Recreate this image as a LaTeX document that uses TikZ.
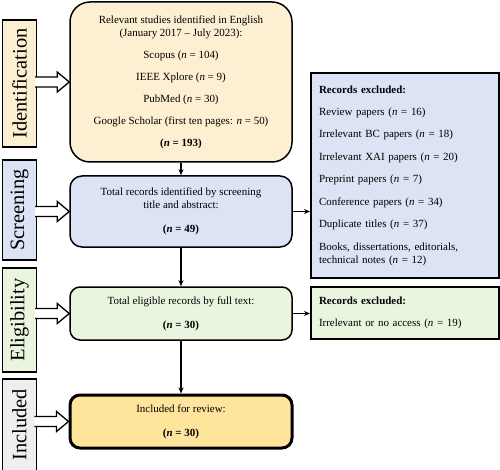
\documentclass[tikz,border=0pt]{standalone}
\usepackage{fontspec}
\setmainfont{Liberation Serif}
\usetikzlibrary{arrows.meta,calc}
\definecolor{idfill}{HTML}{FDF0D2}
\definecolor{scfill}{HTML}{DCE3F4}
\definecolor{elfill}{HTML}{EAF5E0}
\definecolor{infill}{HTML}{FFE49C}
\definecolor{ingray}{HTML}{EFEFEF}
\newcommand{\nn}{\textit{n}}
\newcommand{\hollowarrow}[2]{%
  \draw[line width=1.3bp,fill=white,line join=miter]
    ($(#2.west)+(-34,-5)$) -- ++(22,0) -- ++(0,-5) -- (#2.west) -- ++(-12,10) -- ++(0,-5) -- ++(-22,0);}
\begin{document}
\begin{tikzpicture}[x=1bp,y=-1bp,
  mainbox/.style={draw,line width=1.5bp,minimum width=222bp,align=center,inner sep=0pt,
    font=\fontsize{11}{13}\selectfont},
  sidelab/.style={draw,line width=1.2bp,minimum height=34bp,rotate=90,inner sep=0pt,
    font=\fontsize{20.5}{22}\selectfont},
  exbox/.style={draw,line width=2bp,minimum width=188bp,align=left,inner sep=0pt,
    text width=172bp,font=\fontsize{11}{13}\selectfont},
  flow/.style={line width=1.2bp,-{Stealth[length=6bp,width=5bp]}}]
\useasboundingbox (0,0) rectangle (500,470);

% side labels
\node[sidelab,fill=idfill,minimum width=127bp] (lid) at (19.5,83.5) {Identification};
\node[sidelab,fill=scfill,minimum width=100bp] (lsc) at (19.5,210) {Screening};
\node[sidelab,fill=elfill,minimum width=104bp] (lel) at (19.5,320) {Eligibility};
\node[sidelab,fill=ingray,minimum width=92bp] (lin) at (19.5,425) {Included};

% main boxes
\node[mainbox,fill=idfill,rounded corners=20bp,minimum height=160bp] (id) at (181,82)
  {Relevant studies identified in English\\(January 2017 -- July 2023):\\[9bp]
   Scopus (\nn{} = 104)\\[9bp]IEEE Xplore (\nn{} = 9)\\[9bp]PubMed (\nn{} = 30)\\[9bp]
   Google Scholar (first ten pages: \nn{} = 50)\\[9bp]\textbf{(\nn{} = 193)}};
\node[mainbox,fill=scfill,rounded corners=12bp,minimum height=71bp] (sc) at (181,211.5)
  {Total records identified by screening\\title and abstract:\\[11bp]\textbf{(\nn{} = 49)}};
\node[mainbox,fill=elfill,rounded corners=10bp,minimum height=53bp] (el) at (181,313.5)
  {Total eligible records by full text:\\[11bp]\textbf{(\nn{} = 30)}};
\node[mainbox,fill=infill,rounded corners=10bp,minimum height=53bp,line width=3bp] (in) at (181,421.5)
  {Included for review:\\[11bp]\textbf{(\nn{} = 30)}};

% exclusion boxes
\node[exbox,fill=scfill,minimum height=205bp] (ex1) at (405,175.5)
  {\textbf{Records excluded:}\\[9.5bp]
   Review papers (\nn{} = 16)\\[9.5bp]
   Irrelevant BC papers (\nn{} = 18)\\[9.5bp]
   Irrelevant XAI papers (\nn{} = 20)\\[9.5bp]
   Preprint papers (\nn{} = 7)\\[9.5bp]
   Conference papers (\nn{} = 34)\\[9.5bp]
   Duplicate titles (\nn{} = 37)\\[9.5bp]
   Books, dissertations, editorials,\\technical notes (\nn{} = 12)};
\node[exbox,fill=elfill,minimum height=52bp] (ex2) at (405,313)
  {\textbf{Records excluded:}\\[9.5bp]Irrelevant or no access (\nn{} = 19)};

% flow arrows
\draw[flow] (id) -- (sc);
\draw[flow] (sc) -- (el);
\draw[flow] (el) -- (in);
\draw[flow] (sc.east) -- (sc.east -| ex1.west);
\draw[flow] (el.east) -- (el.east -| ex2.west);

% hollow arrows
\hollowarrow{lid}{id}
\hollowarrow{lsc}{sc}
\hollowarrow{lel}{el}
\hollowarrow{lin}{in}
\end{tikzpicture}
\end{document}
